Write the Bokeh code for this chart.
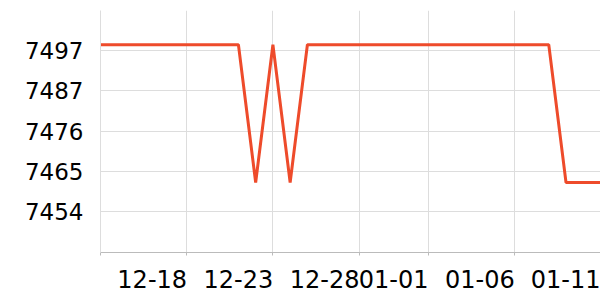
from datetime import datetime
from bokeh.plotting import figure
from bokeh.models import (FixedTicker, DatetimeTickFormatter, Range1d, NumeralTickFormatter,
                          ColumnDataSource, DatetimeAxis)
from bokeh.embed import file_html
from bokeh.resources import INLINE

dates = ["2023-12-13", "2023-12-21", "2023-12-22", "2023-12-23", "2023-12-24",
         "2023-12-25", "2024-01-08", "2024-01-09", "2024-01-11"]
values = [7499, 7499, 7462, 7499, 7462, 7499, 7499, 7462, 7462]

x_tick_dates = ["2023-12-13", "2023-12-18", "2023-12-23", "2023-12-28",
                "2024-01-01", "2024-01-06", "2024-01-11"]
x_tick_labels = ["", "12-18", "12-23", "12-28", "01-01", "01-06", "01-11"]
y_ticks = [7454.2, 7465.0, 7475.8, 7486.6, 7497.4]
y_min, y_max = 7443.2, 7508.2

DAY = 86400000

def ms(s):
    return int(datetime.strptime(s, "%Y-%m-%d").timestamp()) * 1000

xs = [datetime.strptime(d, "%Y-%m-%d") for d in dates]
src = ColumnDataSource(dict(x=xs, y=values))

p = figure(width=600, height=300, x_axis_type="datetime", output_backend="svg",
           toolbar_location=None, min_border_left=100, min_border_right=0,
           min_border_top=10, min_border_bottom=48)
p.x_range = Range1d(ms(x_tick_dates[0]), ms(x_tick_dates[-1]))
p.y_range = Range1d(y_min, y_max)
p.outline_line_color = None
p.background_fill_color = "white"
p.border_fill_color = "white"

p.line("x", "y", source=src, line_color="#ee4b2b", line_width=3)

xt = [ms(d) for d in x_tick_dates]
# main x axis: line and small tick marks only
p.xaxis.ticker = FixedTicker(ticks=xt)
p.xaxis.formatter = DatetimeTickFormatter(days="%m-%d")
p.xaxis.major_label_text_font_size = "0px"
p.xaxis.major_label_text_alpha = 0
p.xaxis.major_label_standoff = 0
p.xaxis.axis_line_color = "#bbbbbb"
p.xaxis.major_tick_line_color = "#bbbbbb"
p.xaxis.major_tick_in = 0
p.xaxis.major_tick_out = 3
p.xaxis.minor_tick_line_color = None

# label axis: labels sit to the left of each tick (right-aligned at the tick)
shift = 2 * DAY
lt = [t - shift for t in xt]
lab_axis = DatetimeAxis(ticker=FixedTicker(ticks=lt),
                        major_label_overrides={t: s for t, s in zip(lt, x_tick_labels)})
lab_axis.axis_line_color = None
lab_axis.major_tick_line_color = None
lab_axis.minor_tick_line_color = None
lab_axis.major_label_text_font = "DejaVu Sans"
lab_axis.major_label_text_font_size = "24px"
lab_axis.major_label_text_color = "black"
lab_axis.major_label_standoff = 8
p.add_layout(lab_axis, "below")

p.yaxis.ticker = FixedTicker(ticks=y_ticks)
p.yaxis.formatter = NumeralTickFormatter(format="0")
p.yaxis.major_label_text_font = "DejaVu Sans"
p.yaxis.major_label_text_font_size = "23px"
p.yaxis.major_label_text_color = "black"
p.yaxis.axis_line_color = "#dddddd"
p.yaxis.major_tick_line_color = None
p.yaxis.minor_tick_line_color = None
p.yaxis.major_label_standoff = 11

p.xgrid.ticker = FixedTicker(ticks=xt)
p.xgrid.grid_line_color = "#dddddd"
p.ygrid.grid_line_color = "#dddddd"

open("out.html", "w").write(file_html(p, INLINE))
